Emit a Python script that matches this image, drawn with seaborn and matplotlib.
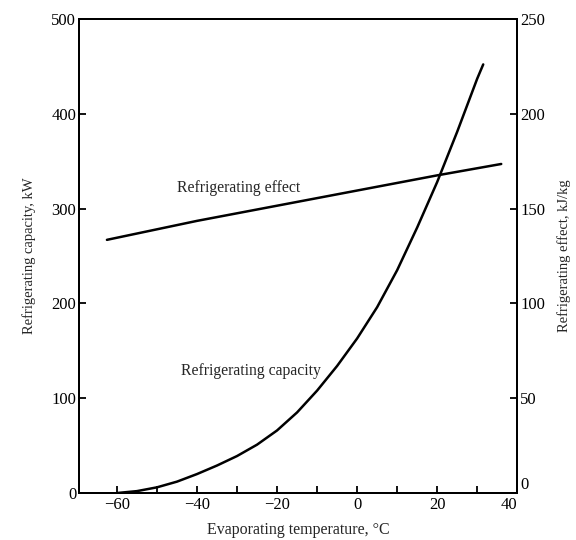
import matplotlib
matplotlib.use("Agg")
import matplotlib.pyplot as plt
import seaborn as sns
import pandas as pd

# evaporating temperature, degC -> refrigerating capacity, kW
cap_temp = [-60, -55, -50, -45, -40, -35, -30, -25, -20, -15, -10, -5, 0,
            5, 10, 15, 20, 25, 30, 31.5]
cap_kw = [0, 2, 6, 12, 20, 29, 39, 51, 66, 85, 108, 134, 163,
          196, 235, 280, 328, 381, 437, 452]

# evaporating temperature, degC -> refrigerating effect, kJ/kg
eff_temp = [-62.5, -40, -20, 0, 20, 36]
eff_kjkg = [133.5, 143.5, 151.5, 159.5, 167.5, 173.5]

x_ticks = list(range(-60, 41, 10))
x_labels = ["\u221260", "", "\u221240", "", "\u221220", "", "0", "", "20", "", "40"]
left_ticks = [0, 100, 200, 300, 400, 500]
right_ticks = [0, 50, 100, 150, 200, 250]

sns.set_style("ticks")
plt.rcParams["font.family"] = ["Liberation Serif", "DejaVu Serif"]

cap = pd.DataFrame({"temp": cap_temp, "kw": cap_kw})
eff = pd.DataFrame({"temp": eff_temp, "kjkg": eff_kjkg})

fig = plt.figure(figsize=(5.76, 5.4), dpi=100)
ax = fig.add_axes([0.137, 0.087, 0.761, 0.878])
ax2 = ax.twinx()

sns.lineplot(data=cap, x="temp", y="kw", ax=ax, color="black", lw=1.8,
             solid_joinstyle="round")
sns.lineplot(data=eff, x="temp", y="kjkg", ax=ax2, color="black", lw=1.8,
             solid_joinstyle="round")

ax.set_xlim(-69.5, 39.5)
ax.set_ylim(0, 500)
ax2.set_ylim(0, 250)

ax.set_xticks(x_ticks)
ax.set_xticklabels(x_labels)
ax.set_yticks(left_ticks)
ax2.set_yticks(right_ticks)

ax.tick_params(axis="both", direction="in", length=5, width=1.3,
               labelsize=12, colors="black")
ax.tick_params(axis="x", pad=3)
ax.tick_params(axis="y", pad=2)
ax2.tick_params(axis="y", direction="in", length=5, width=1.3,
                labelsize=12, colors="black", pad=2)

# corner labels sit off their ticks in the original
ax.get_xticklabels()[-1].set_horizontalalignment("right")
ax2.get_yticklabels()[0].set_verticalalignment("bottom")

for a in (ax, ax2):
    for s in a.spines.values():
        s.set_linewidth(1.4)
        s.set_color("black")

ax.set_xlabel("Evaporating temperature, \u00b0C", fontsize=11.5, labelpad=6)
ax.set_ylabel("Refrigerating capacity, kW", fontsize=10.5, labelpad=11)
ax2.set_ylabel("Refrigerating effect, kJ/kg", fontsize=10.5, labelpad=9)

ax.text(-29.5, 322, "Refrigerating effect", fontsize=11.3, ha="center", va="center")
ax.text(-26.5, 129, "Refrigerating capacity", fontsize=11.3, ha="center", va="center")

fig.savefig("out.png", dpi=100)
